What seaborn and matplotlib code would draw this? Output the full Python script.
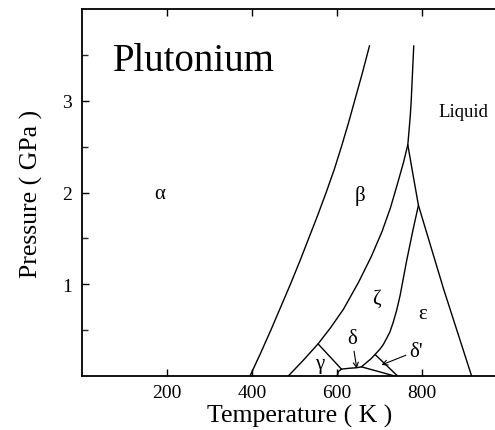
import pandas as pd
import matplotlib
matplotlib.use('Agg')
import matplotlib.pyplot as plt
import seaborn as sns

# phase boundaries (T in K, P in GPa)
alpha_beta_T = [395, 420, 444, 467, 490, 512, 533, 554, 574, 593, 610, 626, 641, 659, 676]
alpha_beta_P = [0.0, 0.25, 0.5, 0.75, 1.0, 1.25, 1.5, 1.75, 2.0, 2.25, 2.5, 2.75, 3.0, 3.3, 3.6]

beta_zeta_T = [485, 520, 555, 585, 615, 650, 680, 705, 725, 742, 756, 766]
beta_zeta_P = [0.0, 0.17, 0.35, 0.53, 0.73, 1.02, 1.30, 1.57, 1.83, 2.1, 2.33, 2.52]

zeta_eps_T = [657, 680, 700, 708, 715, 724, 732, 740, 748, 763, 779, 791]
zeta_eps_P = [0.10, 0.19, 0.29, 0.34, 0.40, 0.48, 0.59, 0.72, 0.88, 1.25, 1.61, 1.86]

liquid_T = [780, 778, 776, 774, 772, 769, 766, 778, 791, 850, 916]
liquid_P = [3.6, 3.4, 3.2, 3.0, 2.85, 2.68, 2.52, 2.2, 1.86, 0.95, 0.0]

gamma_delta_T = [555, 610]
gamma_delta_P = [0.35, 0.075]

delta_dome_T = [600, 603, 610, 630, 646, 657]
delta_dome_P = [0.0, 0.05, 0.075, 0.085, 0.09, 0.10]

delta_dp_T = [657, 735]
delta_dp_P = [0.10, 0.0]

dp_eps_T = [690, 742]
dp_eps_P = [0.23, 0.0]

phase_labels = ['α', 'β', 'ζ', 'ε', 'γ', 'Liquid']
phase_T = [183, 653, 693, 802, 559, 896]
phase_P = [1.99, 1.97, 0.85, 0.68, 0.14, 2.88]

sns.set_theme(style="ticks")
plt.rcParams['font.family'] = ['Liberation Serif', 'DejaVu Serif']
plt.rcParams['text.color'] = 'black'
plt.rcParams['axes.labelcolor'] = 'black'

fig = plt.figure(figsize=(4.95, 4.31), dpi=100)
ax = fig.add_axes([82 / 495, 1 - 377 / 431, 1 - 82 / 495, (377 - 10) / 431])

curves = [
    (alpha_beta_T, alpha_beta_P),
    (beta_zeta_T, beta_zeta_P),
    (zeta_eps_T, zeta_eps_P),
    (liquid_T, liquid_P),
    (gamma_delta_T, gamma_delta_P),
    (delta_dome_T, delta_dome_P),
    (delta_dp_T, delta_dp_P),
    (dp_eps_T, dp_eps_P),
]
for T, P in curves:
    d = pd.DataFrame({'T': T, 'P': P})
    sns.lineplot(data=d, x='T', y='P', ax=ax, sort=False, estimator=None,
                 color='black', lw=1.0)

for lab, t, p in zip(phase_labels, phase_T, phase_P):
    ax.text(t, p, lab, fontsize=15 if lab != 'Liquid' else 13.5,
            ha='center', va='center', color='black')

ax.text(73, 3.33, 'Plutonium', fontsize=28, ha='left', va='baseline', color='black')

# small regions labelled with arrows
arrow = dict(arrowstyle='->', color='black', lw=0.8, mutation_scale=9,
             shrinkA=0, shrinkB=0)
ax.annotate('δ', xy=(646, 0.08), xytext=(635, 0.41), fontsize=15,
            ha='center', va='center', arrowprops=arrow)
ax.annotate("δ'", xy=(704, 0.12), xytext=(785, 0.27), fontsize=15,
            ha='center', va='center', arrowprops=arrow)

ax.set_xlim(0, 971)
ax.set_ylim(0, 4)
ax.set_xticks([200, 400, 600, 800])
ax.set_yticks([1, 2, 3])
ax.set_yticks([0.5, 1.5, 2.5, 3.5], minor=True)
ax.tick_params(axis='both', which='major', direction='in', length=5, width=1,
               labelsize=14, colors='black')
ax.tick_params(axis='x', top=True, pad=6)
ax.tick_params(axis='y', which='minor', direction='in', length=4, width=1, left=True)
ax.tick_params(axis='y', pad=7)

for s in ['left', 'bottom', 'top']:
    ax.spines[s].set_visible(True)
    ax.spines[s].set_color('black')
    ax.spines[s].set_linewidth(1.3)
ax.spines['right'].set_visible(False)

ax.set_xlabel('Temperature ( K )', fontsize=18.5, x=0.528, labelpad=2)
ax.set_ylabel('Pressure ( GPa )', fontsize=18.5, labelpad=14)

fig.savefig('out.png', dpi=100)
